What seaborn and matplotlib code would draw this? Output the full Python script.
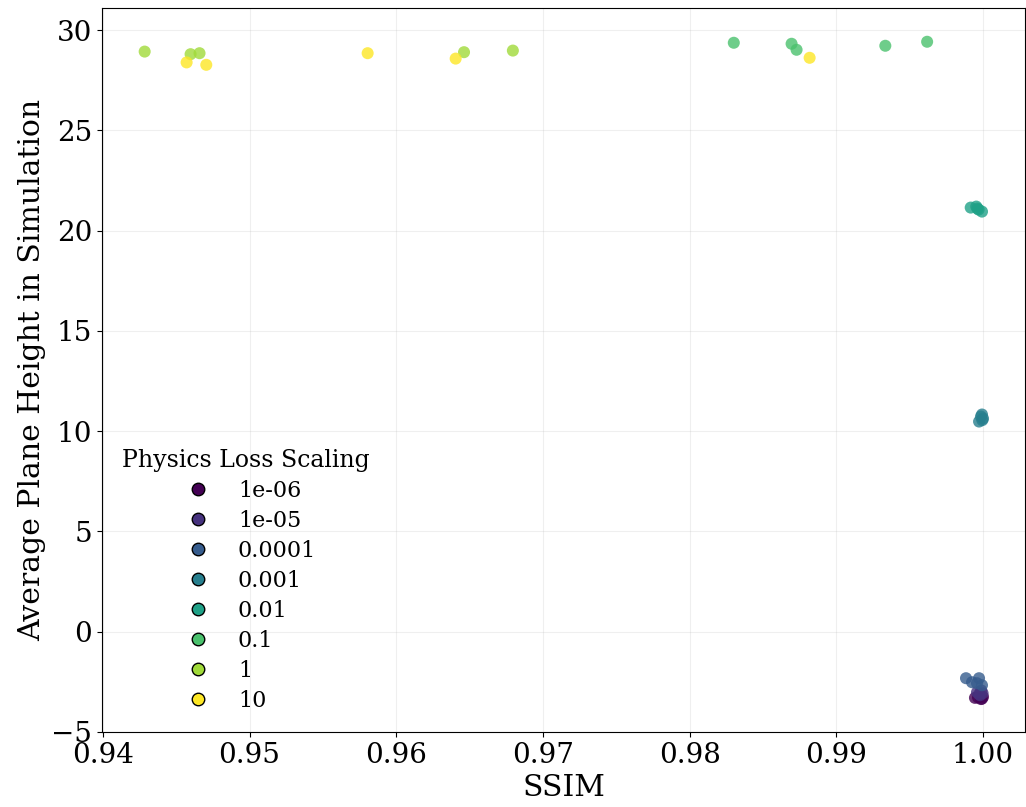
import numpy as np
import pandas as pd
import seaborn as sns
import matplotlib.pyplot as plt
from matplotlib.lines import Line2D

plt.rcParams['font.family'] = 'DejaVu Serif'

# Physics loss scaling groups (5 runs each)
scale_labels = ['1e-06', '1e-05', '0.0001', '0.001', '0.01', '0.1', '1', '10']

ssim_1e6 = [0.99945, 0.99986, 1.0, 0.99966, 0.99993]
height_1e6 = [-3.30, -3.36, -3.25, -3.28, -3.34]

ssim_1e5 = [0.99959, 0.99973, 0.99988, 0.99980, 0.99997]
height_1e5 = [-3.02, -3.12, -2.93, -3.17, -3.07]

ssim_1e4 = [0.99884, 0.99925, 0.99973, 0.99993, 0.99959]
height_1e4 = [-2.32, -2.52, -2.32, -2.67, -2.57]

ssim_1e3 = [0.99986, 0.99993, 1.0, 0.99973, 0.99995]
height_1e3 = [10.73, 10.83, 10.63, 10.48, 10.55]

ssim_1e2 = [0.99916, 0.99954, 0.99970, 0.99993, 0.99962]
height_1e2 = [21.15, 21.20, 21.05, 20.95, 21.10]

ssim_1e1 = [0.98301, 0.98695, 0.98729, 0.99334, 0.99619]
height_1e1 = [29.37, 29.32, 29.02, 29.22, 29.42]

ssim_1 = [0.94285, 0.94598, 0.94659, 0.96462, 0.96795]
height_1 = [28.93, 28.80, 28.85, 28.90, 28.98]

ssim_10 = [0.94571, 0.94705, 0.95805, 0.96405, 0.98818]
height_10 = [28.39, 28.27, 28.85, 28.58, 28.62]

ssim_all = [ssim_1e6, ssim_1e5, ssim_1e4, ssim_1e3, ssim_1e2, ssim_1e1, ssim_1, ssim_10]
height_all = [height_1e6, height_1e5, height_1e4, height_1e3, height_1e2, height_1e1, height_1, height_10]

rows = []
for lab, xs, ys in zip(scale_labels, ssim_all, height_all):
    for x, y in zip(xs, ys):
        rows.append({'SSIM': x, 'Height': y, 'Scaling': lab})
df = pd.DataFrame(rows)

colors = [plt.cm.viridis(v) for v in np.linspace(0, 1, len(scale_labels))]

fig, ax = plt.subplots(figsize=(10.26, 8.07), dpi=100)
fig.subplots_adjust(left=0.0994, right=0.999, bottom=0.093, top=0.990)

sns.scatterplot(data=df, x='SSIM', y='Height', hue='Scaling', hue_order=scale_labels,
                palette=colors, s=75, alpha=0.8, linewidth=0, legend=False, ax=ax, zorder=3)

ax.set_xlim(0.93994, 1.00286)
ax.set_ylim(-5.0, 31.1)
ax.grid(True, alpha=0.2)
ax.set_axisbelow(True)

ax.set_xlabel('SSIM', fontsize=21.5)
ax.set_ylabel('Average Plane Height in Simulation', fontsize=21.5)
ax.tick_params(labelsize=20)

handles = [Line2D([0], [0], marker='o', linestyle='', markerfacecolor=c,
                  markeredgecolor='black', markersize=9, label=l)
           for c, l in zip(colors, scale_labels)]
ax.legend(handles=handles, title='Physics Loss Scaling', loc='lower left',
          frameon=False, fontsize=16, title_fontsize=17, labelspacing=0.36)

plt.savefig('out.png', dpi=100)
